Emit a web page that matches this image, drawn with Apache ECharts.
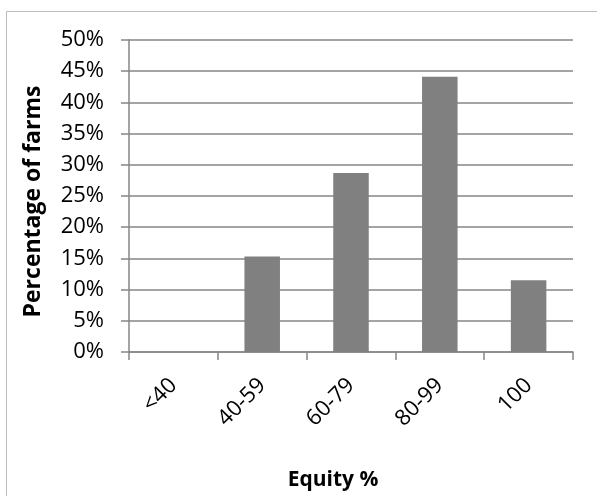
<!DOCTYPE html>
<html>
<head>
<meta charset="utf-8">
<script src="https://cdn.jsdelivr.net/npm/echarts@6/dist/echarts.min.js"></script>
<style>
html,body{margin:0;padding:0;background:#fff;}
#chart{width:597px;height:496px;}
</style>
</head>
<body>
<div id="chart"></div>
<script>
var categories = ['<40', '40-59', '60-79', '80-99', '100'];
var farmShare = [0, 15.3, 28.7, 44.1, 11.5];
var yTicks = [0, 5, 10, 15, 20, 25, 30, 35, 40, 45, 50];

var chart = echarts.init(document.getElementById('chart'), null, {renderer: 'canvas'});
var FONT = 'Open Sans';
chart.setOption({
  animation: false,
  backgroundColor: '#ffffff',
  graphic: [{
    type: 'rect',
    shape: {x: 6.5, y: 11.5, width: 700, height: 600},
    style: {fill: 'none', stroke: '#bdbdbd', lineWidth: 1},
    silent: true
  }],
  grid: {left: 129, right: 24, top: 40, bottom: 143, containLabel: false},
  xAxis: {
    type: 'category',
    data: categories,
    boundaryGap: true,
    name: 'Equity %',
    nameLocation: 'middle',
    nameGap: 118,
    nameTextStyle: {fontFamily: FONT, fontSize: 21, fontWeight: 'bold', color: '#000', padding: [0, 36, 0, 0]},
    axisLine: {show: true, lineStyle: {color: '#868686', width: 1.5}},
    axisTick: {show: true, length: 8, alignWithLabel: false, lineStyle: {color: '#868686', width: 1.5}},
    axisLabel: {rotate: 45, margin: 30, fontFamily: FONT, fontSize: 22, color: '#000', interval: 0}
  },
  yAxis: {
    type: 'value',
    min: yTicks[0],
    max: yTicks[yTicks.length - 1],
    interval: 5,
    name: 'Percentage of farms',
    nameLocation: 'middle',
    nameGap: 84,
    nameRotate: 90,
    nameTextStyle: {fontFamily: FONT, fontSize: 23, fontWeight: 'bold', color: '#000', padding: [0, 11, 0, 0]},
    axisLine: {show: true, lineStyle: {color: '#868686', width: 1.5}},
    axisTick: {show: true, length: 8, inside: false, lineStyle: {color: '#868686', width: 1.5}},
    axisLabel: {margin: 25, fontFamily: FONT, fontSize: 22, color: '#000', formatter: '{value}%'},
    splitLine: {show: true, lineStyle: {color: '#868686', width: 1.5}}
  },
  series: [{
    type: 'bar',
    data: farmShare,
    barWidth: '40%',
    itemStyle: {color: '#808080'}
  }]
});
</script>
</body>
</html>
